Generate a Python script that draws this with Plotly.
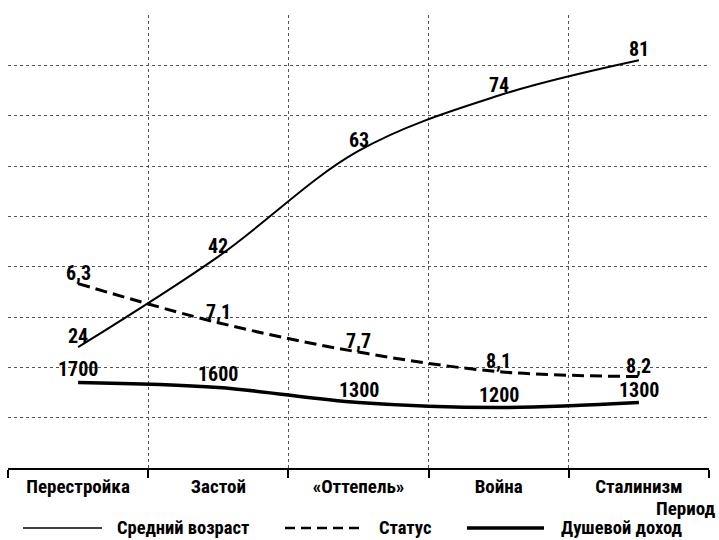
import plotly.graph_objects as go

categories = ["Перестройка", "Застой", "«Оттепель»", "Война", "Сталинизм"]
age = [24, 42, 63, 74, 81]
status = [6.3, 7.1, 7.7, 8.1, 8.2]
income = [1700, 1600, 1300, 1200, 1300]
series_names = ["Средний возраст", "Статус", "Душевой доход"]
axis_title = "Период"

FONT = "Roboto Condensed, Liberation Sans Narrow, DejaVu Sans Condensed, sans-serif"
W, H = 719, 540
L, R, T, B = 8, 10, 15, 72
pw, ph = W - L - R, H - T - B


def px_x(px):
    return (px - L) / pw


def px_y(py):
    return (H - B - py) / ph


def fmt(v):
    return f"{v:.1f}".replace(".", ",") if isinstance(v, float) else str(v)


fig = go.Figure()
fig.add_trace(go.Scatter(x=categories, y=age, mode="lines", yaxis="y",
                         line=dict(color="black", width=2, shape="spline"),
                         name=series_names[0], showlegend=False, hoverinfo="skip"))
fig.add_trace(go.Scatter(x=categories, y=status, mode="lines", yaxis="y2",
                         line=dict(color="black", width=3, shape="spline", dash="12px,6px"),
                         name=series_names[1], showlegend=False, hoverinfo="skip"))
fig.add_trace(go.Scatter(x=categories, y=income, mode="lines", yaxis="y3",
                         line=dict(color="black", width=3.5, shape="spline"),
                         name=series_names[2], showlegend=False, hoverinfo="skip"))

ann = []
for vals, yref, ys in ((age, "y", 11), (status, "y2", 11), (income, "y3", 13)):
    for c, v in zip(categories, vals):
        ann.append(dict(x=c, y=v, xref="x", yref=yref, text=f"<b>{fmt(v)}</b>",
                        showarrow=False, yanchor="middle", yshift=ys,
                        font=dict(family=FONT, size=20, color="black")))

# axis title
ann.append(dict(x=px_x(717), y=px_y(508), xref="paper", yref="paper", text=f"<b>{axis_title}</b>",
                showarrow=False, xanchor="right", yanchor="middle",
                font=dict(family=FONT, size=19, color="black")))

# manual legend
shapes = []
leg_y = px_y(528)
legend_items = [
    (23, 102, dict(color="black", width=1.5), 115),
    (285, 365, dict(color="black", width=2.5, dash="10px,6px"), 377),
    (467, 544, dict(color="black", width=3.5), 559),
]
for (x0, x1, ln, tx), name in zip(legend_items, series_names):
    shapes.append(dict(type="line", xref="paper", yref="paper", x0=px_x(x0), x1=px_x(x1),
                       y0=leg_y, y1=leg_y, line=ln))
    ann.append(dict(x=px_x(tx), y=px_y(528), xref="paper", yref="paper", text=f"<b>{name}</b>",
                    showarrow=False, xanchor="left", yanchor="middle",
                    font=dict(family=FONT, size=18.5, color="black")))

grid = dict(showgrid=True, gridcolor="#555", griddash="dot", gridwidth=1)

fig.update_layout(
    width=W, height=H,
    margin=dict(l=L, r=R, t=T, b=B, autoexpand=False),
    paper_bgcolor="white", plot_bgcolor="white",
    font=dict(family=FONT, size=19, color="black"),
    xaxis=dict(type="category", range=[-0.5, 4.5], tickson="boundaries", automargin=False,
               ticks="outside", ticklen=8, tickwidth=2, tickcolor="black",
               showline=True, linecolor="black", linewidth=2,
               tickfont=dict(family=FONT, size=19, color="black"),
               **grid),
    yaxis=dict(range=[0, 90], dtick=10, showticklabels=False, zeroline=False, automargin=False,
               showline=False, ticks="", **grid),
    yaxis2=dict(range=[10.07, 0.81], overlaying="y", showgrid=False, showticklabels=False,
                zeroline=False, showline=False, ticks="", automargin=False),
    yaxis3=dict(range=[0, 9000], overlaying="y", showgrid=False, showticklabels=False,
                zeroline=False, showline=False, ticks="", automargin=False),
    annotations=ann,
    shapes=shapes,
    showlegend=False,
)
fig.update_xaxes(ticktext=[f"<b>{c}</b>" for c in categories], tickvals=categories)

fig.write_html("out.html", config={"displayModeBar": False},
               post_script="document.body.style.margin='0';document.body.style.overflow='hidden';")
